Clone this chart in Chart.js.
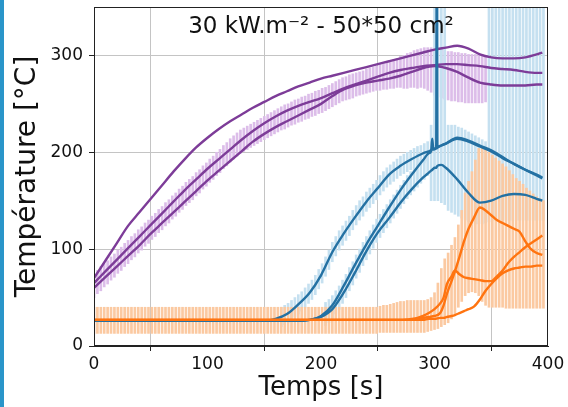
<!DOCTYPE html>
<html lang="fr">
<head>
  <meta charset="UTF-8">
  <title>Température - 30 kW.m-2 - 50*50 cm2</title>
  <script src="https://cdn.jsdelivr.net/npm/chart.js"></script>
  <style>
    html, body { margin: 0; padding: 0; background: #fff; }
    #wrap { position: relative; width: 568px; height: 407px; }
    #edge { position: absolute; left: 0; top: 0; width: 4px; height: 407px; background: #2a95c9; }
  </style>
</head>
<body>
  <div id="wrap">
    <canvas id="tempChart" width="568" height="407"></canvas>
    <div id="edge"></div>
  </div>

  <script>
    // axis ticks
    const xTicks = [0, 100, 200, 300, 400];
    const yTicks = [0, 100, 200, 300];

    // purple curves (every 10 s)
    const tPurple = [0,10,20,30,40,50,60,70,80,90,100,110,120,130,140,150,160,170,180,190,200,210,220,230,240,250,260,270,280,290,300,310,320,330,340,350,360,370,380,390,395];
    const purpleA = [70,88,106,124,138,152,166,180,193,205,215,224,232,239,246,252,258,263,268,272,276,279,282,285,288,291,294,297,300,303,306,308,310,307,301,298,297,297,298,301,303];
    const purpleB = [65,77,89,101,113,125,137,149,161,172,183,193,203,213,222,230,237,243,248,252,256,261,266,270,274,278,282,285,287,289,290,291,291,290,289,287,286,285,283,282,282];
    const purpleC = [60,71,82,93,104,116,127,138,149,160,171,181,191,201,211,219,226,232,238,244,250,258,265,269,272,274,276,279,283,287,289,287,283,277,272,270,269,269,269,270,270];

    // blue curves (extra points around the spikes near 300 s)
    const tBlue = [0,10,20,30,40,50,60,70,80,90,100,110,120,130,140,150,160,170,180,190,200,210,220,230,240,250,260,270,280,290,295,297,298,299,300,301.5,302,302.5,306,310,320,330,340,350,360,370,380,390,395];
    const blueA = [26,26,26,26,26,26,26,26,26,26,26,26,26,26,26,26,28,33,43,55,73,97,116,133,149,163,177,186,193,199,201,202,203,203,204,204,430,205,207,209,215,212,207,202,195,188,182,177,174];
    const blueB = [26,26,26,26,26,26,26,26,26,26,26,26,26,26,26,26,26,26,26,27,31,42,62,84,105,124,143,161,177,192,199,201,214,203,203,204,204,205,207,209,214,211,206,201,194,188,182,176,173];
    const blueC = [26,26,26,26,26,26,26,26,26,26,26,26,26,26,26,26,26,26,26,27,30,38,55,76,98,117,132,148,162,174,179,181,182,183,184,184,185,186,187,184,172,158,148,150,155,157,156,152,150];

    // orange curves
    const tOrange = [0,10,20,30,40,50,60,70,80,90,100,110,120,130,140,150,160,170,180,190,200,210,220,230,240,250,260,270,280,285,290,295,300,305,308,311,315,318,322,326,330,335,340,345,350,355,360,365,370,375,380,385,390,395];
    const orangeA = [27,27,27,27,27,27,27,27,27,27,27,27,27,27,27,27,27,27,27,27,27,27,27,27,27,27,27,27,28,29,31,34,38,44,50,64,72,78,74,71,70,69,68,67,67,72,78,86,92,97,102,106,110,114];
    const orangeB = [27,27,27,27,27,27,27,27,27,27,27,27,27,27,27,27,27,27,27,27,27,27,27,27,27,27,27,27,27,28,29,30,31,34,42,54,67,77,92,108,121,133,143,140,135,130,127,124,121,118,108,100,96,94];
    const orangeC = [27,27,27,27,27,27,27,27,27,27,27,27,27,27,27,27,27,27,27,27,27,27,27,27,27,27,27,27,27,27,27,28,28,29,29,30,31,32,34,36,38,41,48,57,64,70,75,78,80,81,82,82,83,83];

    // error bars, every 3 s
    const errT = [0,3,6,9,12,15,18,21,24,27,30,33,36,39,42,45,48,51,54,57,60,63,66,69,72,75,78,81,84,87,90,93,96,99,102,105,108,111,114,117,120,123,126,129,132,135,138,141,144,147,150,153,156,159,162,165,168,171,174,177,180,183,186,189,192,195,198,201,204,207,210,213,216,219,222,225,228,231,234,237,240,243,246,249,252,255,258,261,264,267,270,273,276,279,282,285,288,291,294,297,300,303,306,309,312,315,318,321,324,327,330,333,336,339,342,345,348,351,354,357,360,363,366,369,372,375,378,381,384,387,390,393,396];

    const purpleLo = [50,54,57,61,64,68,71,75,78,82,
      85,89,92,96,99,103,106,110,113,117,
      120,124,127,131,134,138,141,145,148,151,
      155,158,162,165,169,172,176,179,183,186,
      190,193,196,199,201,203,205,207,209,211,
      213,215,217,219,221,223,224,226,228,229,
      231,232,234,235,237,238,240,241,243,245,
      247,249,251,253,254,255,256,258,259,260,
      261,262,263,264,264,265,265,266,266,267,
      267,266,266,267,267,266,267,266,264,262,
      259,257,256,255,254,253,253,252,252,251,
      251,251,251,251,251,252];
    const purpleHi = [75,78,82,85,88,92,95,99,102,106,
      109,113,116,120,123,127,130,134,137,141,
      144,148,151,155,158,162,165,169,172,175,
      179,182,186,189,193,196,200,203,207,210,
      214,217,220,223,225,227,229,231,233,235,
      237,239,241,243,245,247,249,250,252,254,
      255,257,258,260,261,263,264,266,267,269,
      271,273,275,277,278,280,281,282,283,284,
      286,287,288,289,291,292,293,294,296,297,
      299,300,302,303,305,306,307,308,308,308,
      307,307,306,305,304,304,303,303,302,302,
      301,301,301,301,301,300];

    const blueT1 = [165,168,171,174,177,180,183,186,189,192,195,198,201,204,207,210,213,216,219,222,225,228,231,234,237,240,243,246,249,252,255,258,261,264,267,270,273,276,279,282,285,288,291,294,297];
    const blueLo1 = [20,22,24,27,30,33,36,40,44,48,53,59,65,72,79,87,93,99,104,109,114,120,125,130,134,139,143,147,151,156,160,164,167,170,173,176,178,180,182,184,186,187,189,191,150];
    const blueHi1 = [40,42,44,47,50,53,56,60,64,68,73,79,85,92,99,107,113,119,124,129,134,140,145,150,154,159,163,167,171,176,180,184,187,190,193,196,198,200,202,204,206,207,209,211,228];

    const blueT2 = [204,207,210,213,216,219,222,225,228,231,234,237,240,243,246,249,252,255,258,261,264,267,270,273,276,279,282,285,288,291,294];
    const blueLo2 = [21,24,28,33,38,44,50,57,63,70,76,83,89,95,101,107,112,117,122,127,132,137,142,147,152,156,160,164,168,172,176];
    const blueHi2 = [45,48,52,57,62,68,74,81,87,94,100,107,113,119,125,131,136,141,146,151,156,161,166,171,176,180,184,188,192,196,200];

    const blueT3 = [300,303,306,309,312,315,318,321,324,327,330,333,336,339,342,345,348,351,354,357,360,363,366,369,372,375,378,381,384,387,390,393,396];
    const blueLo3 = [150,150,148,146,140,138,136,134,132,130,128,127,126,126,126,127,128,130,130,130,130,130,130,130,130,130,130,130,130,130,130,130,130];
    const blueHi3 = [400,400,400,400,228,228,228,226,225,223,221,219,217,215,213,211,400,400,400,400,400,400,400,400,400,400,400,400,400,400,400,400,400];

    const orangeLo = [13,13,13,13,13,13,13,13,13,13,13,13,
      13,13,13,13,13,13,13,13,13,13,13,13,
      13,13,13,13,13,13,13,13,13,13,13,13,
      13,13,13,13,13,13,13,13,13,13,13,13,
      13,13,13,13,13,13,13,13,13,13,13,13,
      13,13,13,13,13,13,13,13,13,13,13,13,
      13,13,13,13,13,13,13,13,13,13,13,13,
      14,14,14,14,14,14,14,14,14,14,14,14,14,14,
      15,16,17,18,20,22,24,28,33,40,46,52,55,56,55,52,46,42,40,40,40,40,40,
      39,39,39,39,39,39,39,39,39,39,39,39];
    const orangeHi = [40,40,40,40,40,40,40,40,40,40,40,40,
      40,40,40,40,40,40,40,40,40,40,40,40,
      40,40,40,40,40,40,40,40,40,40,40,40,
      40,40,40,40,40,40,40,40,40,40,40,40,
      40,40,40,40,40,40,40,40,40,40,40,40,
      40,40,40,40,40,40,40,40,40,40,40,40,
      40,40,40,40,40,40,40,40,40,40,40,40,
      41,42,42,43,44,45,46,46,47,47,47,47,47,47,
      48,50,55,65,80,90,96,104,112,125,140,158,170,180,192,204,206,203,200,197,194,191,188,
      185,181,177,173,170,167,163,160,157,154,152,150];

    const toPoints = (times, values) => values.map((v, i) => ({ x: times[i], y: v }));
    const toBars = (times, lo, hi) => lo.map((v, i) => ({ x: times[i], y: [v, hi[i]] }));

    function lineSet(times, values, color, order) {
      return {
        type: 'line', data: toPoints(times, values), borderColor: color, borderWidth: 2.4,
        pointRadius: 0, fill: false, cubicInterpolationMode: 'monotone', order: order
      };
    }
    function barSet(times, lo, hi, color, order) {
      return {
        type: 'bar', data: toBars(times, lo, hi), backgroundColor: color, borderWidth: 0,
        barThickness: 2, grouped: false, order: order
      };
    }

    const PURPLE = '#7d3c98', BLUE = '#2471a3', ORANGE = '#ff7410';

    // frame on top + title inside the plot
    const framePlugin = {
      id: 'frame',
      afterDatasetsDraw(chart) {
        const { ctx, chartArea: a } = chart;
        ctx.save();
        ctx.strokeStyle = '#222';
        ctx.lineWidth = 1;
        ctx.strokeRect(Math.round(a.left) + 0.5, Math.round(a.top) + 0.5,
          Math.round(a.right - a.left) - 1, Math.round(a.bottom - a.top) - 1);
        ctx.fillStyle = '#111';
        ctx.font = '23px "DejaVu Sans"';
        ctx.textAlign = 'center';
        ctx.textBaseline = 'alphabetic';
        ctx.fillText('30 kW.m⁻² - 50*50 cm²', (a.left + a.right) / 2, a.top + 26);
        ctx.restore();
      }
    };

    const ctx = document.getElementById('tempChart').getContext('2d');
    new Chart(ctx, {
      type: 'line',
      data: {
        datasets: [
          barSet(errT, purpleLo, purpleHi, '#dcbde9', 9),
          barSet(blueT1, blueLo1, blueHi1, '#c5e0f0', 8),
          barSet(blueT2, blueLo2, blueHi2, '#c5e0f0', 8),
          barSet(blueT3, blueLo3, blueHi3, '#c5e0f0', 8),
          barSet(errT, orangeLo, orangeHi, '#fbc9a1', 7),
          lineSet(tPurple, purpleA, PURPLE, 3),
          lineSet(tPurple, purpleB, PURPLE, 3),
          lineSet(tPurple, purpleC, PURPLE, 3),
          lineSet(tBlue, blueA, BLUE, 2),
          lineSet(tBlue, blueB, BLUE, 2),
          lineSet(tBlue, blueC, BLUE, 2),
          lineSet(tOrange, orangeA, ORANGE, 1),
          lineSet(tOrange, orangeB, ORANGE, 1),
          lineSet(tOrange, orangeC, ORANGE, 1)
        ]
      },
      options: {
        responsive: false,
        devicePixelRatio: 1,
        animation: false,
        events: [],
        layout: { padding: { top: 7, right: 20, left: 0, bottom: 0 } },
        plugins: { legend: { display: false }, tooltip: { enabled: false } },
        scales: {
          x: {
            type: 'linear', min: 0, max: 400, offset: false,
            afterBuildTicks: s => { s.ticks = xTicks.map(v => ({ value: v })); },
            afterFit: s => { s.height = 61; s.paddingLeft = 0; s.paddingRight = 0; },
            grid: { color: '#c4c4c4', lineWidth: 1, tickLength: 5, tickColor: '#222' },
            border: { color: '#222', width: 1 },
            ticks: { color: '#111', padding: 3, maxRotation: 0, font: { family: 'DejaVu Sans', size: 17 } },
            title: { display: true, text: 'Temps [s]', color: '#111', padding: { top: 0, bottom: 3 },
              font: { family: 'DejaVu Sans', size: 26 } }
          },
          y: {
            type: 'linear', min: 0, max: 350,
            afterBuildTicks: s => { s.ticks = yTicks.map(v => ({ value: v })); },
            afterFit: s => { s.width = 94; s.paddingTop = 0; s.paddingBottom = 0; },
            grid: { color: '#c4c4c4', lineWidth: 1, tickLength: 5, tickColor: '#222' },
            border: { color: '#222', width: 1 },
            ticks: { color: '#111', padding: 6, font: { family: 'DejaVu Sans', size: 17 } },
            title: { display: true, text: 'Température [°C]', color: '#111', padding: { top: 11, bottom: 0 },
              font: { family: 'DejaVu Sans', size: 28 } }
          }
        }
      },
      plugins: [framePlugin]
    });
  </script>
</body>
</html>
